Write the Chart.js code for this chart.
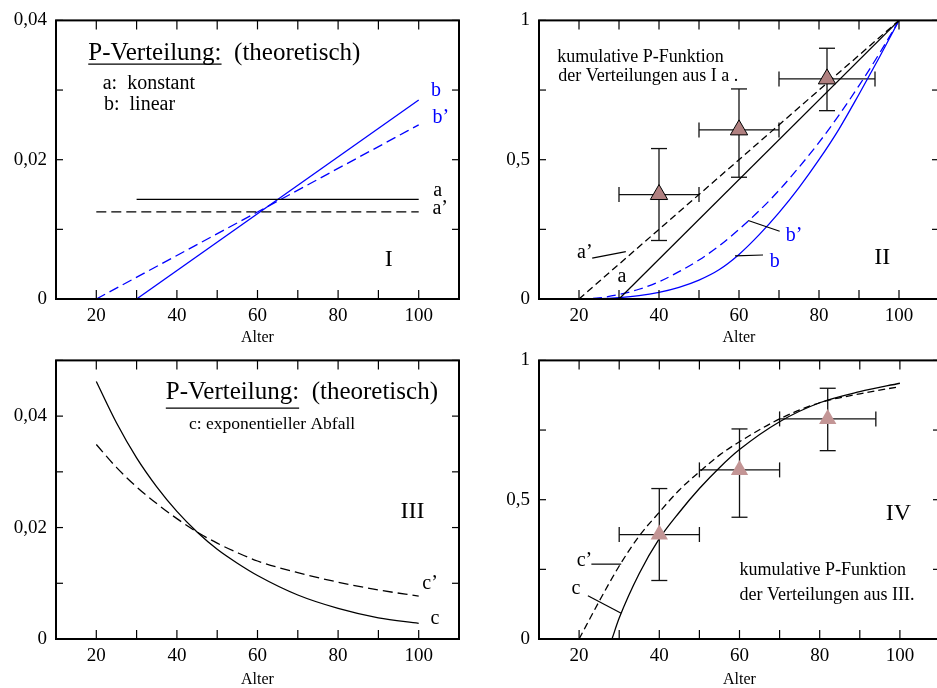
<!DOCTYPE html>
<html>
<head>
<meta charset="utf-8">
<script src="https://cdn.jsdelivr.net/npm/chart.js@4.4.1/dist/chart.umd.min.js"></script>
<style>
    html, body { margin: 0; padding: 0; background: #fff; overflow: hidden; }
    #wrap { position: relative; width: 937px; height: 688px; overflow: hidden; }
    canvas { position: absolute; }
</style>
</head>
<body>
<div id="wrap">
    <canvas id="chart-1" width="470" height="347" style="left:0;top:0"></canvas>
    <canvas id="chart-2" width="480" height="347" style="left:470px;top:0"></canvas>
    <canvas id="chart-3" width="470" height="349" style="left:0;top:340px"></canvas>
    <canvas id="chart-4" width="480" height="349" style="left:470px;top:340px"></canvas>
</div>
<script>
// Achsen
const xTicks = [10, 20, 30, 40, 50, 60, 70, 80, 90, 100, 110];
const xLabels = ['', '20', '', '40', '', '60', '', '80', '', '100', ''];
const densTicks = [0, 0.01, 0.02, 0.03, 0.04];
const densLabels = ['0', '', '0,02', '', '0,04'];
const densTicks3 = [0, 0.01, 0.02, 0.03, 0.04, 0.05];
const densLabels3 = ['0', '', '0,02', '', '0,04', ''];
const cumTicks = [0, 0.25, 0.5, 0.75, 1];
const cumLabels = ['0', '', '0,5', '', '1'];

// I: Dichte konstant / linear
const ageA = [30, 100];
const densA = [0.01429, 0.01429];
const ageA2 = [20, 100];
const densA2 = [0.0125, 0.0125];
const ageB = [30, 100];
const densB = [0, 0.02857];
const ageB2 = [20, 100];
const densB2 = [0, 0.025];

// II: kumulativ
const cumA = [0, 1];
const cumA2 = [0, 1];
const ageCumB = [20, 25, 30, 35, 40, 45, 50, 55, 60, 65, 70, 75, 80, 85, 90, 95, 100];
const cumB = [0, 0.001, 0.005, 0.012, 0.024, 0.042, 0.068, 0.105, 0.16, 0.23, 0.31, 0.4, 0.5, 0.61, 0.735, 0.865, 1];
const cumB2 = [0, 0.004, 0.016, 0.035, 0.062, 0.098, 0.14, 0.19, 0.25, 0.316, 0.39, 0.473, 0.562, 0.66, 0.766, 0.879, 1];

// III: exponentieller Abfall
const ageC = [20, 25, 30, 35, 40, 45, 50, 55, 60, 70, 80, 90, 100];
const densC = [0.0462, 0.0388, 0.0325, 0.0273, 0.0229, 0.0192, 0.0161, 0.0136, 0.0114, 0.0079, 0.0055, 0.0038, 0.0028];
const densC2 = [0.0349, 0.0308, 0.0273, 0.0243, 0.0216, 0.0192, 0.0172, 0.0155, 0.014, 0.0119, 0.0102, 0.0088, 0.0077];

// IV: kumulativ
const ageCumC = [28.2, 30, 35, 40, 45, 50, 55, 60, 70, 80, 90, 100];
const cumC = [0, 0.075, 0.235, 0.36, 0.455, 0.54, 0.615, 0.68, 0.78, 0.848, 0.888, 0.918];
const ageCumC2 = [20, 25, 30, 35, 40, 45, 50, 55, 60, 70, 80, 90, 100];
const cumC2 = [0, 0.135, 0.262, 0.37, 0.455, 0.535, 0.6, 0.66, 0.708, 0.79, 0.848, 0.88, 0.906];

// Messpunkte
const obsAge = [40, 60, 82];
const obsCum = [0.375, 0.607, 0.79];
const obsAgeLow = [30, 50, 70];
const obsAgeHigh = [50, 70, 94];
const obsCumLow = [0.21, 0.437, 0.676];
const obsCumHigh = [0.54, 0.754, 0.9];

const FONT = '"Liberation Serif", "Times New Roman", serif';
const BLUE = '#0000ff';

Chart.defaults.font.family = FONT;
Chart.defaults.color = '#000';

function pts(xs, ys) {
    return xs.map((x, i) => ({ x: x, y: ys[i] }));
}

function curve(xs, ys, color, dash) {
    return {
        data: pts(xs, ys),
        borderColor: color,
        borderWidth: 1.3,
        borderDash: dash || [],
        pointRadius: 0,
        fill: false,
        cubicInterpolationMode: 'monotone'
    };
}

function line(ctx, x1, y1, x2, y2) {
    ctx.beginPath();
    ctx.moveTo(x1, y1);
    ctx.lineTo(x2, y2);
    ctx.stroke();
}

// Rahmen und Striche nach innen
const framePlugin = {
    id: 'frame',
    afterDatasetsDraw(chart) {
        const { ctx, chartArea: a, scales: { x, y } } = chart;
        ctx.save();
        ctx.strokeStyle = '#000';
        ctx.lineWidth = 1.2;
        x.ticks.forEach(t => {
            const px = x.getPixelForValue(t.value);
            line(ctx, px, a.bottom, px, a.bottom - 9);
            line(ctx, px, a.top, px, a.top + 9);
        });
        y.ticks.forEach(t => {
            const py = y.getPixelForValue(t.value);
            line(ctx, a.left, py, a.left + 7, py);
            line(ctx, a.right, py, a.right - 7, py);
        });
        ctx.lineWidth = 2;
        ctx.strokeRect(a.left, a.top, a.right - a.left, a.bottom - a.top);
        ctx.restore();
    }
};

function errorPlugin() {
    return {
        id: 'errors',
        beforeDatasetsDraw(chart) {
            const { ctx, scales: { x, y } } = chart;
            ctx.save();
            ctx.strokeStyle = '#111';
            ctx.lineWidth = 1.3;
            obsAge.forEach((age, i) => {
                const px = x.getPixelForValue(age);
                const py = y.getPixelForValue(obsCum[i]);
                const x1 = x.getPixelForValue(obsAgeLow[i]);
                const x2 = x.getPixelForValue(obsAgeHigh[i]);
                const y1 = y.getPixelForValue(obsCumLow[i]);
                const y2 = y.getPixelForValue(obsCumHigh[i]);
                line(ctx, x1, py, x2, py);
                line(ctx, x1, py - 7.5, x1, py + 7.5);
                line(ctx, x2, py - 7.5, x2, py + 7.5);
                line(ctx, px, y1, px, y2);
                line(ctx, px - 8, y1, px + 8, y1);
                line(ctx, px - 8, y2, px + 8, y2);
            });
            ctx.restore();
        }
    };
}

function notesPlugin(notes, leaders) {
    return {
        id: 'notes',
        afterDraw(chart) {
            const { ctx, scales: { x, y } } = chart;
            ctx.save();
            ctx.textBaseline = 'middle';
            ctx.textAlign = 'left';
            notes.forEach(n => {
                const px = x.getPixelForValue(n.x);
                const py = y.getPixelForValue(n.y);
                ctx.font = n.size + 'px ' + FONT;
                ctx.fillStyle = n.color || '#000';
                ctx.fillText(n.text, px, py);
                if (n.underline) {
                    const w = ctx.measureText(n.underline).width;
                    ctx.strokeStyle = '#000';
                    ctx.lineWidth = 1.2;
                    line(ctx, px, py + n.ul, px + w, py + n.ul);
                }
            });
            ctx.strokeStyle = '#000';
            ctx.lineWidth = 1.2;
            (leaders || []).forEach(l => {
                line(ctx, x.getPixelForValue(l[0]), y.getPixelForValue(l[1]),
                          x.getPixelForValue(l[2]), y.getPixelForValue(l[3]));
            });
            ctx.restore();
        }
    };
}

function makeChart(id, cfg) {
    const ctx = document.getElementById(id);
    return new Chart(ctx, {
        type: 'line',
        data: { datasets: cfg.datasets },
        options: {
            responsive: false,
            animation: false,
            devicePixelRatio: 1,
            layout: { padding: { top: 15, right: cfg.padRight, left: 0, bottom: 0 } },
            plugins: { legend: { display: false }, tooltip: { enabled: false } },
            scales: {
                x: {
                    type: 'linear',
                    min: 10,
                    max: 110,
                    afterBuildTicks: s => { s.ticks = xTicks.map(v => ({ value: v })); },
                    afterFit: s => { s.height = cfg.xHeight; },
                    grid: { display: false, drawTicks: false },
                    border: { display: false },
                    ticks: {
                        padding: 6, maxRotation: 0, autoSkip: false,
                        font: { size: 19 }, color: '#000',
                        callback: (v, i) => xLabels[i]
                    },
                    title: { display: true, text: 'Alter', font: { size: 16 }, padding: 0, color: '#000' }
                },
                y: {
                    type: 'linear',
                    min: 0,
                    max: cfg.yMax,
                    afterBuildTicks: s => { s.ticks = cfg.yTicks.map(v => ({ value: v })); },
                    afterFit: s => { s.width = cfg.yWidth; },
                    grid: { display: false, drawTicks: false },
                    border: { display: false },
                    ticks: {
                        padding: 9, autoSkip: false,
                        font: { size: 19 }, color: '#000',
                        callback: (v, i) => cfg.yLabels[i]
                    }
                }
            }
        },
        plugins: [cfg.errors ? errorPlugin() : { id: 'none' }, framePlugin, notesPlugin(cfg.notes, cfg.leaders)]
    });
}

function obsDataset(fill, border) {
    return {
        data: pts(obsAge, obsCum),
        showLine: false,
        pointStyle: 'triangle',
        pointRadius: 10,
        backgroundColor: fill,
        borderColor: border || fill,
        borderWidth: border ? 1 : 0,
        order: -1
    };
}

// I
makeChart('chart-1', {
    yMax: 0.04, yTicks: densTicks, yLabels: densLabels, yWidth: 56, xHeight: 48, padRight: 11,
    datasets: [
        curve(ageA, densA, '#000'),
        curve(ageA2, densA2, '#000', [10, 5]),
        curve(ageB, densB, BLUE),
        curve(ageB2, densB2, BLUE, [10, 5])
    ],
    notes: [
        { x: 18.0, y: 0.0353, text: 'P-Verteilung:  (theoretisch)', size: 25, underline: 'P-Verteilung:', ul: 11 },
        { x: 21.6, y: 0.0309, text: 'a:  konstant', size: 20 },
        { x: 21.9, y: 0.0279, text: 'b:  linear', size: 20 },
        { x: 103.05, y: 0.0299, text: 'b', size: 20, color: BLUE },
        { x: 103.4, y: 0.0260, text: 'b’', size: 20, color: BLUE },
        { x: 103.6, y: 0.0156, text: 'a', size: 20 },
        { x: 103.4, y: 0.0129, text: 'a’', size: 20 },
        { x: 91.6, y: 0.0056, text: 'I', size: 24 }
    ]
});

// II
makeChart('chart-2', {
    yMax: 1, yTicks: cumTicks, yLabels: cumLabels, yWidth: 69, xHeight: 48, padRight: 8, errors: true,
    datasets: [
        obsDataset('#b08080', '#000'),
        curve(ageA, cumA, '#000'),
        curve(ageA2, cumA2, '#000', [7, 4]),
        curve(ageCumB, cumB, BLUE),
        curve(ageCumB, cumB2, BLUE, [9, 5])
    ],
    notes: [
        { x: 14.55, y: 0.868, text: 'kumulative P-Funktion', size: 18 },
        { x: 14.8, y: 0.800, text: 'der Verteilungen aus I a .', size: 18 },
        { x: 19.5, y: 0.165, text: 'a’', size: 20 },
        { x: 29.6, y: 0.081, text: 'a', size: 20 },
        { x: 71.7, y: 0.228, text: 'b’', size: 20, color: BLUE },
        { x: 67.7, y: 0.134, text: 'b', size: 20, color: BLUE },
        { x: 93.8, y: 0.147, text: 'II', size: 24 }
    ],
    leaders: [
        [23.3, 0.147, 31.7, 0.170],
        [62.3, 0.2817, 70.17, 0.243],
        [59.0, 0.155, 66.0, 0.158]
    ]
});

// III
makeChart('chart-3', {
    yMax: 0.05, yTicks: densTicks3, yLabels: densLabels3, yWidth: 56, xHeight: 50, padRight: 11,
    datasets: [
        curve(ageC, densC, '#000'),
        curve(ageC, densC2, '#000', [10, 5])
    ],
    notes: [
        { x: 37.25, y: 0.0443, text: 'P-Verteilung:  (theoretisch)', size: 25, underline: 'P-Verteilung:', ul: 16 },
        { x: 43.0, y: 0.0385, text: 'c: exponentieller Abfall', size: 17.5 },
        { x: 95.5, y: 0.0228, text: 'III', size: 24 },
        { x: 100.9, y: 0.0100, text: 'c’', size: 20 },
        { x: 102.9, y: 0.0036, text: 'c', size: 20 }
    ]
});

// IV
makeChart('chart-4', {
    yMax: 1, yTicks: cumTicks, yLabels: cumLabels, yWidth: 69, xHeight: 50, padRight: 8, errors: true,
    datasets: [
        obsDataset('#c39595'),
        curve(ageCumC, cumC, '#000'),
        curve(ageCumC2, cumC2, '#000', [7, 4])
    ],
    notes: [
        { x: 96.5, y: 0.451, text: 'IV', size: 24 },
        { x: 60.0, y: 0.246, text: 'kumulative P-Funktion', size: 18 },
        { x: 60.0, y: 0.158, text: 'der Verteilungen aus III.', size: 18 },
        { x: 19.4, y: 0.281, text: 'c’', size: 20 },
        { x: 18.1, y: 0.1815, text: 'c', size: 20 }
    ],
    leaders: [
        [23.06, 0.2687, 30.5, 0.2687],
        [22.2, 0.155, 30.5, 0.0926]
    ]
});
</script>
</body>
</html>
